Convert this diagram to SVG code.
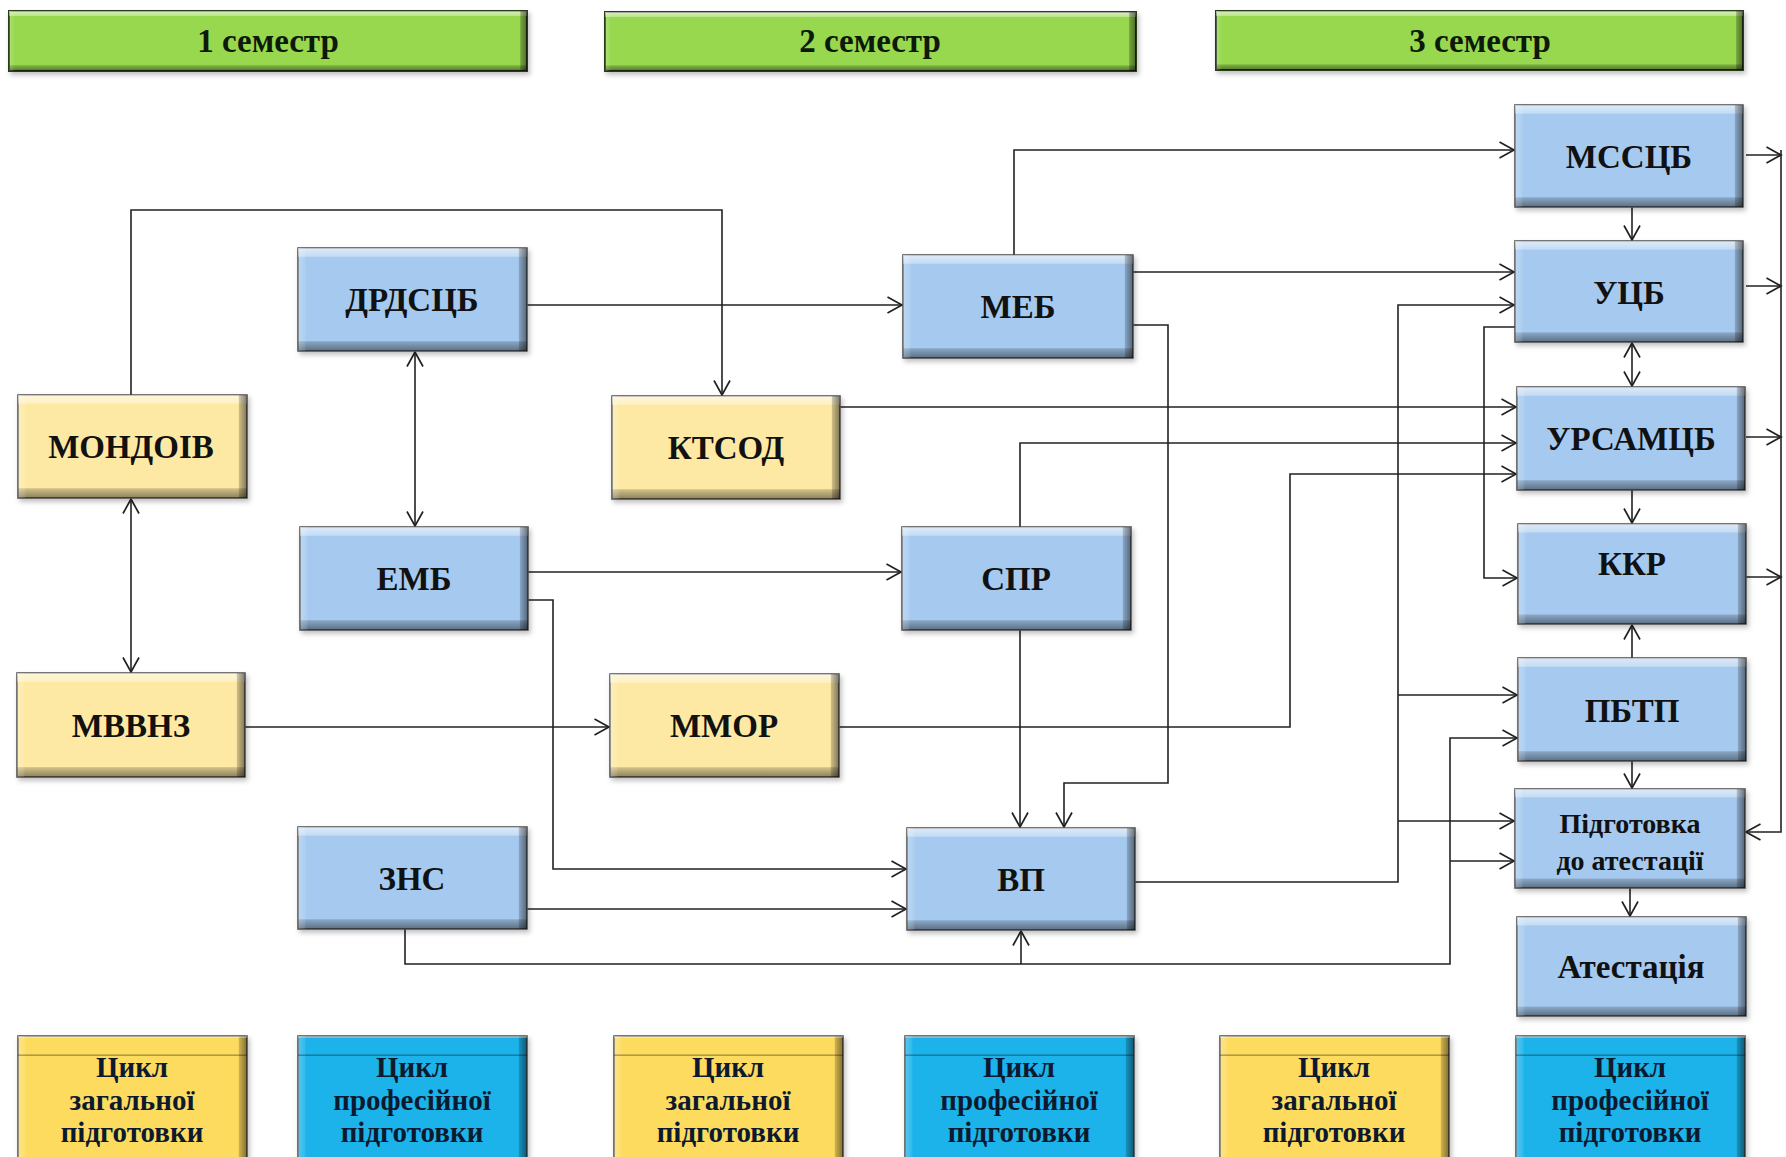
<svg xmlns="http://www.w3.org/2000/svg" width="1786" height="1157" viewBox="0 0 1786 1157">
<defs>
<linearGradient id="vbev" x1="0" y1="0" x2="0" y2="1">
<stop offset="0" stop-color="#fff" stop-opacity="0.6"/>
<stop offset="0.08" stop-color="#fff" stop-opacity="0.35"/>
<stop offset="0.09" stop-color="#fff" stop-opacity="0"/>
<stop offset="0.9" stop-color="#000" stop-opacity="0"/>
<stop offset="0.91" stop-color="#000" stop-opacity="0.18"/>
<stop offset="1" stop-color="#000" stop-opacity="0.45"/>
</linearGradient>
<linearGradient id="hbev" x1="0" y1="0" x2="1" y2="0">
<stop offset="0" stop-color="#fff" stop-opacity="0.25"/>
<stop offset="0.03" stop-color="#fff" stop-opacity="0.1"/>
<stop offset="0.035" stop-color="#fff" stop-opacity="0"/>
<stop offset="0.962" stop-color="#000" stop-opacity="0"/>
<stop offset="0.967" stop-color="#000" stop-opacity="0.2"/>
<stop offset="1" stop-color="#000" stop-opacity="0.5"/>
</linearGradient>
<linearGradient id="hbevS" x1="0" y1="0" x2="1" y2="0">
<stop offset="0" stop-color="#fff" stop-opacity="0.2"/>
<stop offset="0.012" stop-color="#fff" stop-opacity="0"/>
<stop offset="0.986" stop-color="#000" stop-opacity="0"/>
<stop offset="0.988" stop-color="#000" stop-opacity="0.25"/>
<stop offset="1" stop-color="#000" stop-opacity="0.5"/>
</linearGradient>
<filter id="sh" x="-5%" y="-5%" width="112%" height="120%">
<feDropShadow dx="2" dy="3" stdDeviation="2.5" flood-color="#000" flood-opacity="0.25"/>
</filter>
<marker id="ar" viewBox="0 0 17 18" refX="15.5" refY="9" markerWidth="17" markerHeight="18" markerUnits="userSpaceOnUse" orient="auto-start-reverse">
<path d="M1,1 L15.5,9 L1,17" fill="none" stroke="#222" stroke-width="1.7"/>
</marker>
<style>
.box{stroke:#4a4a4a;stroke-width:1.5;filter:url(#sh)}
.blue{fill:#a6caef}
.yel{fill:#fde9a3}
.ly{fill:#fddb5f}
.lc{fill:#1bb3ea}
.grn{fill:#98d84f;stroke:#2c3a1c;stroke-width:2}
.vb{fill:url(#vbev);stroke:none}
.hb{fill:url(#hbev);stroke:none}
.hbs{fill:url(#hbevS);stroke:none}
text{font-family:"Liberation Serif","Times New Roman",serif;font-weight:bold;fill:#111;text-anchor:middle}
.t{font-size:33px}
.s{font-size:33px;fill:#0d1a0a}
.l{font-size:29px;fill:#0c1a30}
.p{font-size:28px}
.c path{fill:none;stroke:#222;stroke-width:1.6}
.a{marker-end:url(#ar)}
.aa{marker-start:url(#ar);marker-end:url(#ar)}
</style>
</defs>
<rect width="1786" height="1157" fill="#fff"/>

<!-- Semester headers -->
<g id="sem1"><rect class="box grn" x="9" y="11" width="518" height="60"/><rect class="vb" x="9" y="11" width="518" height="60"/><rect class="hbs" x="9" y="11" width="518" height="60"/><text class="s" x="268" y="52">1 семестр</text></g>
<g id="sem2"><rect class="box grn" x="605" y="12" width="531" height="59"/><rect class="vb" x="605" y="12" width="531" height="59"/><rect class="hbs" x="605" y="12" width="531" height="59"/><text class="s" x="870" y="52">2 семестр</text></g>
<g id="sem3"><rect class="box grn" x="1216" y="11" width="527" height="59"/><rect class="vb" x="1216" y="11" width="527" height="59"/><rect class="hbs" x="1216" y="11" width="527" height="59"/><text class="s" x="1480" y="52">3 семестр</text></g>

<!-- Connectors -->
<g id="connectors" class="c">
<path class="a" d="M131,395 V210 H722 V395"/>
<path class="a" d="M527,305 H902"/>
<path class="aa" d="M415,352 V526"/>
<path class="aa" d="M131,499 V672"/>
<path class="a" d="M245,727 H609"/>
<path class="a" d="M528,572 H901"/>
<path class="a" d="M528,600 H553 V869 H906"/>
<path class="a" d="M527,909 H906"/>
<path class="a" d="M405,929 V964 H1450 V738 H1517"/>
<path class="a" d="M1021,964 V931"/>
<path class="a" d="M1450,861 H1514"/>
<path class="a" d="M1014,255 V150 H1514"/>
<path class="a" d="M1133,272 H1514"/>
<path class="a" d="M1133,325 H1168 V783 H1064 V827"/>
<path class="a" d="M840,407 H1516"/>
<path class="a" d="M1020,527 V443 H1516"/>
<path class="a" d="M1020,630 V827"/>
<path class="a" d="M839,727 H1290 V474 H1516"/>
<path class="a" d="M1135,882 H1398 V305 H1514"/>
<path class="a" d="M1398,695 H1517"/>
<path class="a" d="M1398,821 H1514"/>
<path class="a" d="M1515,327 H1484 V578 H1517"/>
<path class="a" d="M1632,207 V240"/>
<path class="aa" d="M1632,343 V386"/>
<path class="a" d="M1632,490 V523"/>
<path class="a" d="M1632,658 V625"/>
<path class="a" d="M1632,761 V788"/>
<path class="a" d="M1630,888 V916"/>
<path class="a" d="M1746,155 H1781"/>
<path class="a" d="M1746,286 H1781"/>
<path class="a" d="M1746,437 H1781"/>
<path class="a" d="M1746,577 H1781"/>
<path class="a" d="M1781,150 V832 H1746"/>
</g>

<!-- Nodes -->
<g id="mondoiv"><rect class="box yel" x="18" y="395" width="229" height="103"/><rect class="vb" x="18" y="395" width="229" height="103"/><rect class="hb" x="18" y="395" width="229" height="103"/><text class="t" x="131" y="458">МОНДОІВ</text></g>
<g id="mvvnz"><rect class="box yel" x="17" y="673" width="228" height="104"/><rect class="vb" x="17" y="673" width="228" height="104"/><rect class="hb" x="17" y="673" width="228" height="104"/><text class="t" x="131" y="737">МВВНЗ</text></g>
<g id="drdsczb"><rect class="box blue" x="298" y="248" width="229" height="103"/><rect class="vb" x="298" y="248" width="229" height="103"/><rect class="hb" x="298" y="248" width="229" height="103"/><text class="t" x="412" y="311">ДРДСЦБ</text></g>
<g id="emb"><rect class="box blue" x="300" y="527" width="228" height="103"/><rect class="vb" x="300" y="527" width="228" height="103"/><rect class="hb" x="300" y="527" width="228" height="103"/><text class="t" x="414" y="590">ЕМБ</text></g>
<g id="zns"><rect class="box blue" x="298" y="827" width="229" height="102"/><rect class="vb" x="298" y="827" width="229" height="102"/><rect class="hb" x="298" y="827" width="229" height="102"/><text class="t" x="412" y="890">ЗНС</text></g>
<g id="ktsod"><rect class="box yel" x="612" y="396" width="228" height="103"/><rect class="vb" x="612" y="396" width="228" height="103"/><rect class="hb" x="612" y="396" width="228" height="103"/><text class="t" x="726" y="459">КТСОД</text></g>
<g id="mmor"><rect class="box yel" x="610" y="674" width="229" height="103"/><rect class="vb" x="610" y="674" width="229" height="103"/><rect class="hb" x="610" y="674" width="229" height="103"/><text class="t" x="724" y="737">ММОР</text></g>
<g id="meb"><rect class="box blue" x="903" y="255" width="230" height="103"/><rect class="vb" x="903" y="255" width="230" height="103"/><rect class="hb" x="903" y="255" width="230" height="103"/><text class="t" x="1018" y="318">МЕБ</text></g>
<g id="spr"><rect class="box blue" x="902" y="527" width="229" height="103"/><rect class="vb" x="902" y="527" width="229" height="103"/><rect class="hb" x="902" y="527" width="229" height="103"/><text class="t" x="1016" y="590">СПР</text></g>
<g id="vp"><rect class="box blue" x="907" y="828" width="228" height="102"/><rect class="vb" x="907" y="828" width="228" height="102"/><rect class="hb" x="907" y="828" width="228" height="102"/><text class="t" x="1021" y="891">ВП</text></g>
<g id="msszb"><rect class="box blue" x="1515" y="105" width="228" height="102"/><rect class="vb" x="1515" y="105" width="228" height="102"/><rect class="hb" x="1515" y="105" width="228" height="102"/><text class="t" x="1629" y="168">МССЦБ</text></g>
<g id="uczb"><rect class="box blue" x="1515" y="241" width="228" height="101"/><rect class="vb" x="1515" y="241" width="228" height="101"/><rect class="hb" x="1515" y="241" width="228" height="101"/><text class="t" x="1629" y="304">УЦБ</text></g>
<g id="ursamczb"><rect class="box blue" x="1517" y="387" width="228" height="103"/><rect class="vb" x="1517" y="387" width="228" height="103"/><rect class="hb" x="1517" y="387" width="228" height="103"/><text class="t" x="1631" y="450">УРСАМЦБ</text></g>
<g id="kkr"><rect class="box blue" x="1518" y="524" width="228" height="100"/><rect class="vb" x="1518" y="524" width="228" height="100"/><rect class="hb" x="1518" y="524" width="228" height="100"/><text class="t" x="1632" y="575">ККР</text></g>
<g id="pbtp"><rect class="box blue" x="1518" y="658" width="228" height="103"/><rect class="vb" x="1518" y="658" width="228" height="103"/><rect class="hb" x="1518" y="658" width="228" height="103"/><text class="t" x="1632" y="722">ПБТП</text></g>
<g id="pidgotovka"><rect class="box blue" x="1515" y="789" width="230" height="99"/><rect class="vb" x="1515" y="789" width="230" height="99"/><rect class="hb" x="1515" y="789" width="230" height="99"/><text class="p" x="1630" y="833">Підготовка</text><text class="p" x="1630" y="870">до атестації</text></g>
<g id="atestatsiia"><rect class="box blue" x="1517" y="917" width="229" height="99"/><rect class="vb" x="1517" y="917" width="229" height="99"/><rect class="hb" x="1517" y="917" width="229" height="99"/><text class="t" x="1631" y="978">Атестація</text></g>

<!-- Legend -->
<g id="leg1"><rect class="box ly" x="18" y="1036" width="229" height="130"/><rect class="hb" x="18" y="1036" width="229" height="130"/><rect class="vb" x="18" y="1036" width="229" height="20" opacity="0.8"/><text class="l" x="132" y="1077">Цикл</text><text class="l" x="132" y="1110">загальної</text><text class="l" x="132" y="1142">підготовки</text></g>
<g id="leg2"><rect class="box lc" x="298" y="1036" width="229" height="130"/><rect class="hb" x="298" y="1036" width="229" height="130"/><rect class="vb" x="298" y="1036" width="229" height="20" opacity="0.8"/><text class="l" x="412" y="1077">Цикл</text><text class="l" x="412" y="1110">професійної</text><text class="l" x="412" y="1142">підготовки</text></g>
<g id="leg3"><rect class="box ly" x="614" y="1036" width="229" height="130"/><rect class="hb" x="614" y="1036" width="229" height="130"/><rect class="vb" x="614" y="1036" width="229" height="20" opacity="0.8"/><text class="l" x="728" y="1077">Цикл</text><text class="l" x="728" y="1110">загальної</text><text class="l" x="728" y="1142">підготовки</text></g>
<g id="leg4"><rect class="box lc" x="905" y="1036" width="229" height="130"/><rect class="hb" x="905" y="1036" width="229" height="130"/><rect class="vb" x="905" y="1036" width="229" height="20" opacity="0.8"/><text class="l" x="1019" y="1077">Цикл</text><text class="l" x="1019" y="1110">професійної</text><text class="l" x="1019" y="1142">підготовки</text></g>
<g id="leg5"><rect class="box ly" x="1220" y="1036" width="229" height="130"/><rect class="hb" x="1220" y="1036" width="229" height="130"/><rect class="vb" x="1220" y="1036" width="229" height="20" opacity="0.8"/><text class="l" x="1334" y="1077">Цикл</text><text class="l" x="1334" y="1110">загальної</text><text class="l" x="1334" y="1142">підготовки</text></g>
<g id="leg6"><rect class="box lc" x="1516" y="1036" width="229" height="130"/><rect class="hb" x="1516" y="1036" width="229" height="130"/><rect class="vb" x="1516" y="1036" width="229" height="20" opacity="0.8"/><text class="l" x="1630" y="1077">Цикл</text><text class="l" x="1630" y="1110">професійної</text><text class="l" x="1630" y="1142">підготовки</text></g>
</svg>
